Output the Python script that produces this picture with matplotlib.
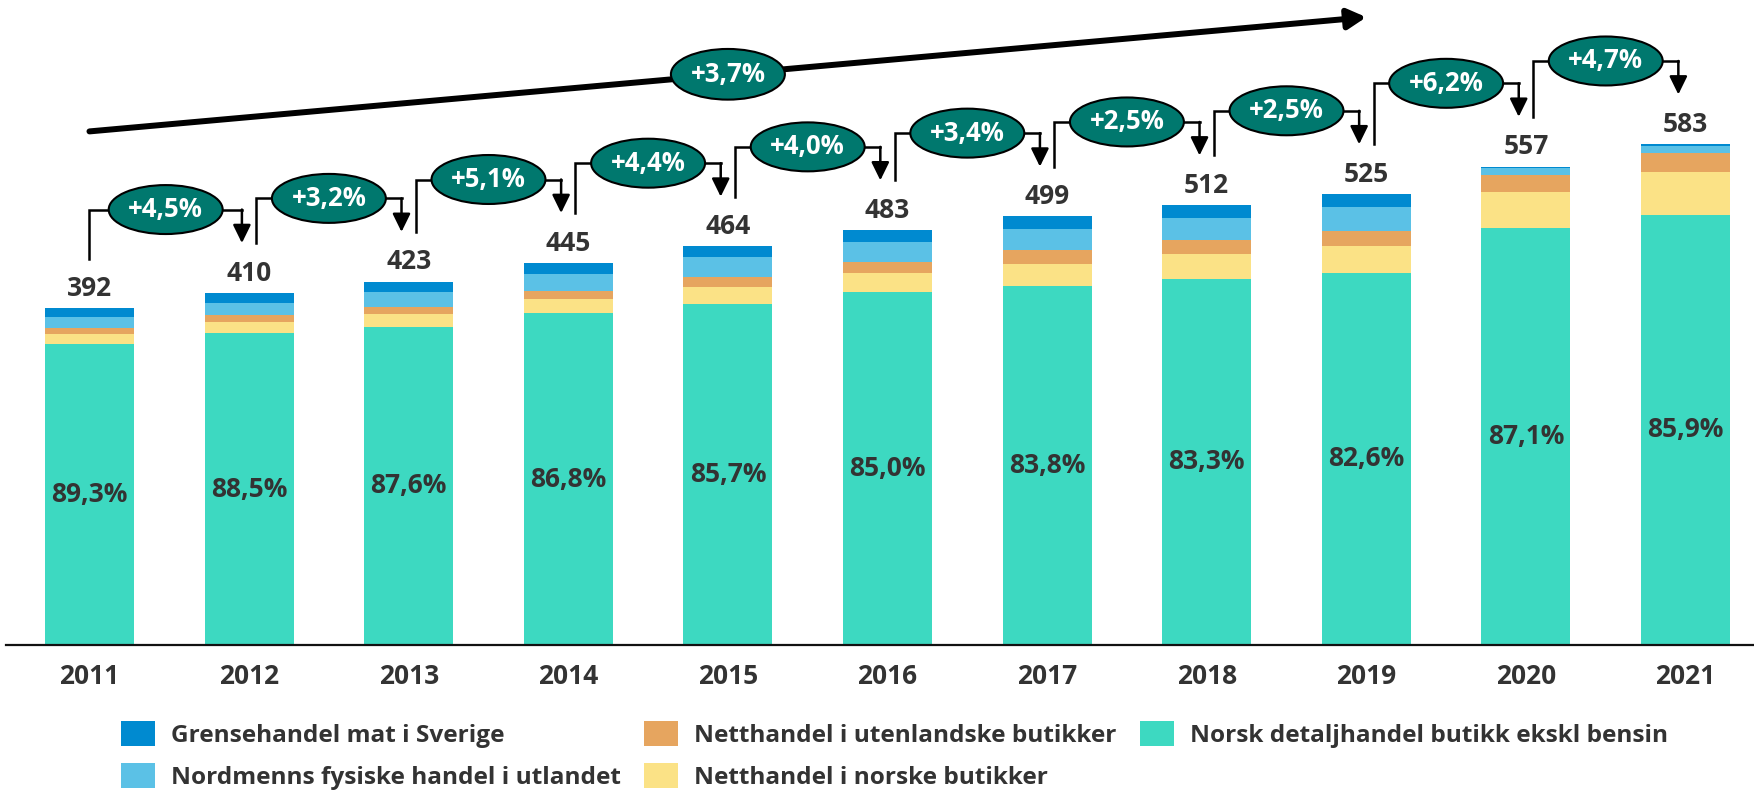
import matplotlib
matplotlib.use("Agg")
import matplotlib.pyplot as plt
from matplotlib.patches import Ellipse
import numpy as np

plt.rcParams['font.family'] = ['Open Sans', 'DejaVu Sans']
plt.rcParams['font.weight'] = 'bold'

years = ['2011', '2012', '2013', '2014', '2015', '2016', '2017', '2018', '2019', '2020', '2021']
totals = [392, 410, 423, 445, 464, 483, 499, 512, 525, 557, 583]
norsk_butikk = [350.1, 362.9, 370.5, 386.3, 397.6, 410.6, 418.2, 426.5, 433.7, 485.1, 500.8]
nett_norske = [12.4, 12.8, 14.4, 16.3, 19.8, 22.7, 25.7, 28.9, 30.7, 42.1, 50.0]
nett_utenl = [6.4, 8.2, 8.5, 10.1, 11.2, 12.7, 16.0, 15.8, 17.9, 20.1, 22.5]
fysisk_utland = [12.7, 14.1, 17.1, 19.1, 22.6, 23.5, 25.0, 25.8, 27.2, 8.1, 8.1]
grense_sverige = [10.4, 12.0, 12.5, 13.2, 12.8, 13.5, 14.1, 15.0, 15.5, 1.6, 1.6]
share_labels = ['89,3%', '88,5%', '87,6%', '86,8%', '85,7%', '85,0%', '83,8%', '83,3%', '82,6%', '87,1%', '85,9%']
growth_labels = ['+4,5%', '+3,2%', '+5,1%', '+4,4%', '+4,0%', '+3,4%', '+2,5%', '+2,5%', '+6,2%', '+4,7%']
cagr_label = '+3,7%'

series = [
    ('Norsk detaljhandel butikk ekskl bensin', norsk_butikk, '#3DD9C1'),
    ('Netthandel i norske butikker', nett_norske, '#FBE286'),
    ('Netthandel i utenlandske butikker', nett_utenl, '#E6A55F'),
    ('Nordmenns fysiske handel i utlandet', fysisk_utland, '#5BC1E6'),
    ('Grensehandel mat i Sverige', grense_sverige, '#008AD0'),
]

TXT = '#333333'
ELL = '#00786E'

fig = plt.figure(figsize=(17.54, 7.92), dpi=100)
ax = fig.add_axes([6 / 1754, 147 / 792, 1748 / 1754, 645 / 792])
x = np.arange(len(years))
bw = 0.557
bottom = np.zeros(len(years))
handles = {}
for name, vals, col in series:
    v = np.array(vals)
    b = ax.bar(x, v, bw, bottom=bottom, color=col, label=name, zorder=2)
    handles[name] = b
    bottom += v

ax.set_xlim(-0.523, 10.429)
ax.set_ylim(0, 751)
for s in ['top', 'left', 'right']:
    ax.spines[s].set_visible(False)
ax.spines['bottom'].set_linewidth(1.6)
ax.spines['bottom'].set_color('#111111')
ax.set_yticks([])
ax.set_xticks(x)
ax.set_xticklabels(years, fontsize=19, fontweight='bold', color=TXT)
ax.tick_params(axis='x', length=0, pad=13)

tops = np.array(totals, dtype=float)
for i in range(len(years)):
    ax.text(x[i], norsk_butikk[i] / 2, share_labels[i], ha='center', va='center',
            fontsize=19, fontweight='bold', color=TXT, zorder=3)
    ax.text(x[i], tops[i] + 23, str(totals[i]), ha='center', va='center',
            fontsize=19, fontweight='bold', color=TXT, zorder=3)

gap = 58
rise = 97
ew, eh = 0.714, 57
for i in range(len(years) - 1):
    xl = x[i] + (0 if i == 0 else 0.045)
    xr = x[i + 1] - 0.045
    lvl = max(tops[i], tops[i + 1]) + rise
    ax.plot([xl, xl, xr], [tops[i] + gap, lvl, lvl], color='black', lw=1.8,
            solid_joinstyle='miter', zorder=4, clip_on=False)
    ax.annotate('', xy=(xr, tops[i + 1] + gap), xytext=(xr, lvl),
                arrowprops=dict(arrowstyle='-|>,head_length=0.55,head_width=0.27',
                                mutation_scale=20, lw=1.8, color='black',
                                shrinkA=0, shrinkB=0), zorder=4)
    cx = (xl + xr) / 2
    ax.add_patch(Ellipse((cx, lvl), ew, eh, facecolor=ELL, edgecolor='black',
                         lw=1.5, zorder=5, clip_on=False))
    ax.text(cx, lvl, growth_labels[i], ha='center', va='center', fontsize=18.5,
            fontweight='bold', color='white', zorder=6)

x0, y0, x1, y1 = 0.0, 598.0, 8.0, 731.0
ax.annotate('', xy=(x1, y1), xytext=(x0, y0),
            arrowprops=dict(arrowstyle='-|>,head_length=0.55,head_width=0.3',
                            mutation_scale=20, lw=4.3, color='black',
                            shrinkA=0, shrinkB=0), zorder=4, annotation_clip=False)
cx, cy = (x0 + x1) / 2, (y0 + y1) / 2
ax.add_patch(Ellipse((cx, cy), ew, eh + 2, facecolor=ELL, edgecolor='black',
                     lw=1.5, zorder=5, clip_on=False))
ax.text(cx, cy, cagr_label, ha='center', va='center', fontsize=18.5,
        fontweight='bold', color='white', zorder=6)

order = ['Grensehandel mat i Sverige', 'Nordmenns fysiske handel i utlandet',
         'Netthandel i utenlandske butikker', 'Netthandel i norske butikker',
         'Norsk detaljhandel butikk ekskl bensin']
fs = 17.6
leg = fig.legend([handles[n] for n in order], order, ncol=3, loc='upper left',
                 bbox_to_anchor=(121 / 1754, 1 - 721 / 792), frameon=False,
                 prop={'weight': 'bold', 'size': fs},
                 handlelength=1.39, handleheight=1.22, handletextpad=0.66,
                 columnspacing=0.95, labelspacing=0.62, borderpad=0, borderaxespad=0)
for t in leg.get_texts():
    t.set_color(TXT)

fig.savefig('out.png', dpi=100)
